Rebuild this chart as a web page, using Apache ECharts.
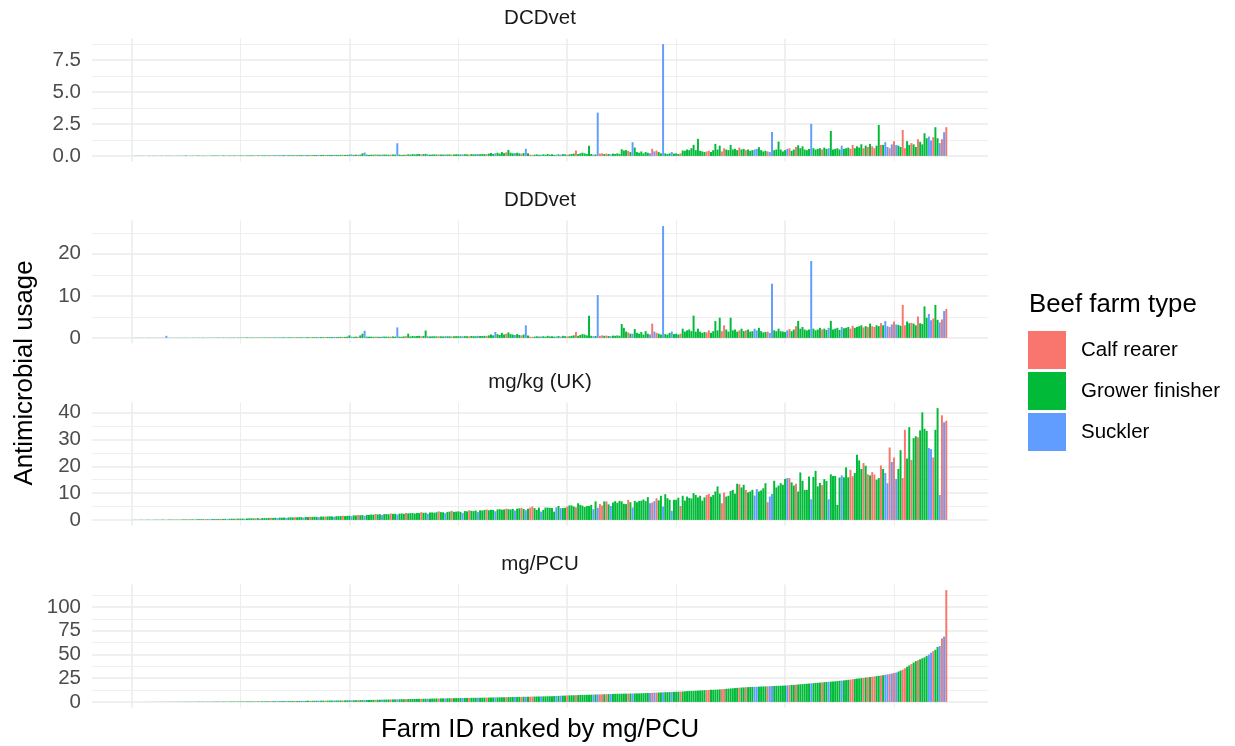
<!DOCTYPE html>
<html><head><meta charset="utf-8">
<script src="https://cdn.jsdelivr.net/npm/echarts@6/dist/echarts.min.js"></script>
<style>html,body{margin:0;padding:0;background:#fff}#c{width:1235px;height:746px}</style>
</head><body><div id="c"></div>
<script>
// ---- data (farms ranked by mg/PCU, rank 1..N) ----
const panelNames = ['DCDvet', 'DDDvet', 'mg/kg (UK)', 'mg/PCU'];
const typeNames = { C: 'Calf rearer', G: 'Grower finisher', S: 'Suckler' };
const typeOrder = ['C', 'G', 'S'];
const farmTypeCodes =
  'GGSGGCGGSG GGCGGSGGGC GSGGGCGGSG GGGCGSGGGG CGGSGGGCGG GSGGGGCGSG GGGCGGSGGG SGGGCGGGSG GCGGGSGGCG GGSGGGCGGG ' +
  'SGGCGGSGGG GCGGSGGGCG GSGGGCGGGG GGCGGSGGGG CGGSGGCGGG GSGGCGGGSG GGCGGGSGGG GCGGGSGGCG SGCCGGGSGG GGGGSGSGGC ' +
  'GGGCGGGGGG GSGSCCGCGS GGGGGGGCGS GGGGGGGSCS CGGSGGGSGG GCGGGGGGGG GGGCCGGGGG CCGGGGGGCG GCGGGSSGGG GCSSGGGGGG ' +
  'SCGGCGGGGG GSGGGGCGGS GGGGGSGGGC CGGGGCGCGC CGGCGSSCSC SGGCCGGCGG CGGGGSSCGG SCSC';

const dcdvet = [
 0.01,0.01,0.02,0.01,0.02,0.01,0.01,0.02,0.01,0.02,
 0.02,0.01,0.02,0.02,0.01,0.03,0.02,0.02,0.01,0.02,
 0.02,0.03,0.02,0.02,0.03,0.02,0.02,0.03,0.02,0.03,
 0.03,0.02,0.03,0.03,0.02,0.03,0.03,0.04,0.03,0.03,
 0.03,0.04,0.03,0.03,0.04,0.03,0.04,0.04,0.03,0.04,
 0.04,0.03,0.04,0.04,0.05,0.04,0.04,0.05,0.04,0.05,
 0.05,0.04,0.05,0.05,0.04,0.05,0.06,0.05,0.05,0.06,
 0.05,0.06,0.05,0.06,0.06,0.05,0.06,0.07,0.06,0.06,
 0.06,0.07,0.06,0.07,0.07,0.06,0.07,0.08,0.07,0.07,
 0.08,0.07,0.08,0.08,0.07,0.08,0.09,0.08,0.08,0.1,
 0.12,0.08,0.1,0.09,0.1,0.2,0.26,0.1,0.08,0.1,
 0.09,0.12,0.1,0.09,0.1,0.11,0.1,0.09,0.1,0.11,
 0.1,0.99,0.1,0.08,0.09,0.1,0.12,0.1,0.14,0.12,
 0.13,0.15,0.12,0.14,0.16,0.12,0.1,0.11,0.12,0.1,
 0.12,0.11,0.1,0.12,0.11,0.12,0.1,0.11,0.13,0.12,
 0.11,0.12,0.13,0.12,0.11,0.14,0.13,0.12,0.15,0.13,
 0.14,0.15,0.13,0.18,0.22,0.16,0.2,0.25,0.18,0.3,
 0.22,0.28,0.47,0.25,0.2,0.22,0.25,0.2,0.18,0.22,
 0.55,0.2,0.1,0.08,0.1,0.12,0.09,0.1,0.12,0.1,
 0.15,0.1,0.12,0.08,0.1,0.12,0.1,0.14,0.12,0.1,
 0.12,0.15,0.18,0.42,0.15,0.2,0.25,0.2,0.15,0.8,
 0.15,0.1,0.12,3.38,0.18,0.2,0.15,0.18,0.15,0.12,
 0.18,0.15,0.2,0.15,0.52,0.42,0.45,0.4,0.3,1.07,
 0.65,0.3,0.25,0.35,0.2,0.3,0.25,0.2,0.55,0.35,
 0.42,0.3,0.2,8.73,0.2,0.15,0.2,0.3,0.18,0.2,
 0.15,0.2,0.42,0.4,0.5,0.45,0.6,0.86,0.45,1.33,
 0.4,0.35,0.3,0.35,0.4,0.3,0.45,0.94,0.5,0.8,
 0.35,0.6,0.5,0.45,0.86,0.5,0.55,0.45,0.65,0.5,
 0.55,0.45,0.5,0.4,0.45,0.5,0.55,0.68,0.45,0.35,
 0.4,0.35,0.3,1.87,0.45,0.5,1.12,0.5,0.35,0.45,
 0.55,0.6,0.4,0.5,0.7,0.83,0.6,0.75,0.5,0.45,
 0.55,2.5,0.6,0.5,0.55,0.6,0.5,0.65,0.55,0.6,
 1.95,0.5,0.55,0.6,0.5,0.8,0.55,0.6,0.65,0.55,
 0.86,0.6,0.75,0.65,0.91,0.6,0.8,0.7,0.94,0.75,
 0.6,0.8,2.42,0.86,0.86,1.07,0.7,0.6,0.9,1.15,
 0.85,0.8,0.7,2.03,0.6,1.15,0.86,1.0,0.9,0.7,
 1.3,1.1,0.9,1.77,1.38,1.51,1.2,1.46,2.24,1.38,
 1.0,1.3,1.85,2.24
];

const dddvet = [
 0.03,0.02,0.05,0.03,0.04,0.02,0.03,0.05,0.04,0.03,
 0.04,0.03,0.05,0.04,0.03,0.5,0.04,0.05,0.03,0.06,
 0.05,0.08,0.04,0.05,0.06,0.05,0.04,0.06,0.07,0.05,
 0.06,0.05,0.07,0.06,0.05,0.08,0.06,0.07,0.06,0.08,
 0.07,0.08,0.06,0.09,0.07,0.08,0.09,0.07,0.08,0.1,
 0.08,0.1,0.09,0.08,0.1,0.09,0.11,0.1,0.12,0.1,
 0.11,0.1,0.12,0.13,0.11,0.12,0.14,0.12,0.13,0.15,
 0.13,0.14,0.15,0.13,0.16,0.14,0.15,0.17,0.15,0.16,
 0.17,0.16,0.18,0.17,0.19,0.18,0.2,0.19,0.2,0.22,
 0.2,0.22,0.24,0.21,0.23,0.25,0.22,0.24,0.3,0.6,
 0.3,0.25,0.3,0.28,0.6,1.0,1.7,0.3,0.25,0.3,
 0.25,0.3,0.28,0.25,0.3,0.32,0.3,0.28,0.3,0.35,
 0.3,2.5,0.3,0.28,0.35,0.4,1.0,0.35,0.45,0.4,
 0.45,0.5,0.4,0.45,1.75,0.4,0.35,0.38,0.4,0.35,
 0.4,0.38,0.35,0.42,0.38,0.4,0.35,0.38,0.42,0.4,
 0.38,0.4,0.42,0.4,0.38,0.45,0.42,0.4,0.5,0.45,
 0.45,0.5,0.48,0.6,0.8,0.6,1.4,0.9,0.7,1.2,
 0.8,1.0,1.3,0.9,0.8,0.7,0.9,0.7,0.6,0.8,
 3.0,0.6,0.3,0.25,0.3,0.4,0.3,0.35,0.4,0.3,
 0.5,0.35,0.4,0.3,0.35,0.45,0.3,0.5,0.4,0.35,
 0.4,0.5,0.6,1.4,0.5,0.7,0.9,0.8,0.6,5.3,
 0.5,0.4,0.45,10.2,0.5,0.6,0.5,0.55,0.45,0.4,
 0.55,0.5,0.6,0.5,3.3,2.4,1.5,1.3,1.0,1.0,
 2.1,1.2,1.0,1.4,0.8,1.6,1.0,0.8,3.4,1.5,
 1.2,1.0,0.8,26.6,0.9,0.8,1.2,1.5,0.9,1.0,
 0.8,1.0,2.2,1.5,1.8,2.0,1.6,5.3,1.5,2.2,
 1.5,1.2,1.4,1.3,1.8,1.2,1.6,4.0,1.8,4.8,
 1.6,3.0,2.0,1.5,4.8,1.8,2.0,1.5,1.8,2.2,
 1.6,1.8,2.0,1.5,1.6,2.2,1.8,2.4,1.6,1.3,
 1.4,1.5,1.2,12.9,1.8,1.6,2.2,1.6,1.5,1.4,
 1.8,2.1,1.6,2.0,2.8,4.05,2.2,2.6,2.0,1.8,
 2.0,18.3,2.2,1.8,2.0,2.4,2.0,2.2,1.9,2.4,
 4.05,2.0,2.2,2.4,1.9,2.6,2.3,2.4,2.6,2.2,
 2.9,2.4,2.6,2.8,3.0,2.5,2.8,2.6,3.4,2.8,
 2.6,3.0,2.8,3.5,3.0,4.0,2.8,2.6,3.2,3.9,
 3.2,3.1,2.9,7.85,3.0,3.9,3.5,3.6,3.4,3.0,
 5.1,3.5,3.3,7.5,4.8,5.7,4.2,4.6,7.85,4.3,
 3.7,4.4,6.4,6.9
];

const mgkg = [
 0.05,0.06,0.04,0.08,0.07,0.05,0.09,0.1,0.06,0.08,
 0.1,0.12,0.09,0.13,0.11,0.08,0.14,0.15,0.12,0.16,
 0.15,0.12,0.18,0.2,0.17,0.22,0.2,0.24,0.18,0.25,
 0.26,0.28,0.25,0.3,0.27,0.22,0.32,0.34,0.3,0.35,
 0.38,0.36,0.4,0.3,0.42,0.45,0.4,0.48,0.5,0.45,
 0.52,0.4,0.55,0.58,0.6,0.56,0.62,0.65,0.5,0.68,
 0.7,0.66,0.74,0.78,0.72,0.8,0.7,0.85,0.82,0.88,
 0.75,0.9,0.95,0.92,1.0,0.96,1.02,1.05,0.85,1.1,
 1.08,1.2,1.12,1.18,1.15,1.0,1.25,1.22,1.3,1.28,
 1.35,1.3,1.15,1.4,1.38,1.45,1.55,1.42,1.5,1.6,
 1.4,1.7,1.65,1.85,1.75,1.8,1.5,1.9,1.85,2.0,
 1.95,2.2,2.05,2.1,1.8,2.15,2.2,2.1,2.4,2.25,
 2.3,2.0,2.35,2.4,2.3,2.6,2.45,2.5,2.55,2.4,
 2.6,2.55,2.9,2.65,2.7,2.3,2.75,2.8,2.7,2.85,
 3.2,2.9,2.85,2.5,3.0,3.1,3.4,3.0,3.1,3.2,
 3.0,2.6,3.3,3.2,3.6,3.4,3.3,3.5,2.9,3.6,
 3.5,3.7,3.9,3.6,3.8,3.7,3.2,3.9,4.0,3.8,
 3.9,4.2,4.0,3.9,4.1,3.5,4.2,4.3,4.5,4.1,
 3.6,4.2,4.6,5.0,4.4,3.7,4.6,3.1,3.7,4.6,
 4.6,4.5,4.4,3.1,4.7,5.2,4.4,4.4,4.5,5.0,
 5.4,5.4,5.0,4.7,6.2,5.6,5.3,4.8,5.2,5.2,
 5.6,4.0,6.9,4.5,5.9,5.4,6.9,6.9,5.8,5.2,
 6.5,7.0,6.4,7.1,6.9,6.0,5.9,7.5,6.6,4.6,
 7.1,6.6,7.1,7.2,7.6,7.0,8.5,6.2,6.5,7.0,
 8.1,7.3,9.0,5.0,9.6,8.1,7.5,3.4,7.5,7.5,
 8.3,5.2,9.0,7.2,8.7,8.2,8.0,10.0,9.3,8.4,
 9.0,7.2,8.4,9.3,9.7,8.6,9.3,10.6,12.5,9.8,
 6.2,10.2,8.7,9.0,10.8,11.2,9.8,13.5,13.3,12.1,
 13.1,11.2,10.3,10.6,11.2,9.1,11.5,10.6,11.0,11.8,
 13.7,6.6,8.7,9.7,14.6,12.1,12.8,13.7,13.1,15.3,
 15.6,15.6,14.0,12.8,13.5,10.6,17.7,14.6,11.2,11.2,
 16.2,7.7,16.0,18.3,12.5,13.8,13.0,15.2,14.5,7.7,
 17.0,16.4,16.4,5.6,15.8,16.6,15.9,19.6,15.9,18.7,
 16.3,17.5,24.3,22.2,19.0,21.2,20.2,17.0,16.6,17.8,
 16.9,15.0,15.6,20.3,19.0,17.5,13.7,27.0,21.6,23.3,
 15.3,19.0,26.0,15.6,33.6,22.9,34.6,22.4,30.5,31.2,
 30.8,33.4,40.1,34.0,33.2,26.8,26.4,23.3,33.6,41.7,
 9.3,39.0,36.4,37.0
];

const mgpcu = [
 0.01,0.02,0.03,0.03,0.04,0.05,0.05,0.06,0.07,0.08,
 0.09,0.1,0.11,0.12,0.13,0.14,0.15,0.16,0.17,0.18,
 0.19,0.2,0.21,0.22,0.23,0.24,0.25,0.26,0.27,0.28,
 0.3,0.31,0.32,0.33,0.34,0.35,0.36,0.37,0.38,0.39,
 0.4,0.41,0.42,0.43,0.44,0.46,0.47,0.48,0.5,0.51,
 0.52,0.54,0.55,0.56,0.58,0.6,0.61,0.63,0.65,0.66,
 0.68,0.7,0.72,0.74,0.76,0.78,0.8,0.82,0.84,0.86,
 0.88,0.9,0.92,0.94,0.96,0.98,1.0,1.02,1.05,1.08,
 1.1,1.13,1.16,1.19,1.22,1.25,1.28,1.31,1.34,1.37,
 1.4,1.43,1.46,1.49,1.52,1.55,1.58,1.61,1.64,1.68,
 1.72,1.76,1.8,1.84,1.88,1.92,1.96,2.0,2.05,2.1,
 2.15,2.2,2.25,2.3,2.35,2.4,2.45,2.5,2.55,2.6,
 2.65,2.7,2.75,2.8,2.85,2.9,2.95,3.0,3.05,3.1,
 3.15,3.2,3.25,3.3,3.35,3.4,3.45,3.5,3.55,3.6,
 3.65,3.7,3.74,3.78,3.82,3.86,3.9,3.94,3.98,4.02,
 4.06,4.1,4.14,4.18,4.22,4.26,4.3,4.34,4.38,4.42,
 4.46,4.5,4.55,4.6,4.65,4.7,4.75,4.8,4.85,4.9,
 4.95,5.0,5.05,5.1,5.15,5.2,5.25,5.3,5.35,5.4,
 5.45,5.5,5.55,5.6,5.65,5.7,5.75,5.8,5.85,5.9,
 5.95,6.0,6.1,6.2,6.3,6.4,6.5,6.6,6.7,6.8,
 6.9,7.0,7.05,7.1,7.2,7.3,7.35,7.4,7.5,7.6,
 7.65,7.7,7.8,7.9,7.95,8.0,8.1,8.2,8.25,8.3,
 8.4,8.5,8.55,8.6,8.65,8.7,8.75,8.8,8.85,8.9,
 8.95,9.0,9.05,9.1,9.2,9.3,9.4,9.5,9.6,9.7,
 9.8,9.9,10.0,10.1,10.2,10.3,10.4,10.5,10.6,10.7,
 10.8,10.9,11.0,11.2,11.4,11.5,11.6,11.7,11.8,12.0,
 12.1,12.2,12.4,12.5,12.6,12.7,12.8,12.9,13.0,13.2,
 13.4,13.6,13.8,14.0,14.2,14.4,14.6,14.8,15.0,15.2,
 15.3,15.5,15.6,15.7,15.8,15.9,16.0,16.1,16.2,16.3,
 16.4,16.5,16.6,16.7,16.8,16.9,17.0,17.1,17.2,17.3,
 17.5,17.7,17.9,18.0,18.2,18.4,18.6,18.8,19.0,19.2,
 19.4,19.6,19.8,20.0,20.2,20.4,20.6,20.8,21.0,21.2,
 21.4,21.6,21.8,22.0,22.3,22.5,22.7,23.0,23.3,23.6,
 23.9,24.2,24.5,24.8,25.1,25.4,25.7,26.0,26.3,26.6,
 26.9,27.2,27.5,27.8,28.2,28.6,29.0,29.5,30.0,30.5,
 31.0,32.0,33.0,34.0,35.5,37.0,38.5,40.0,41.5,43.0,
 44.0,45.0,46.0,47.0,48.5,50.0,52.0,53.5,55.0,58.0,
 59.0,67.0,69.0,118.0
];

const yTickValues = [[0, 2.5, 5, 7.5], [0, 10, 20], [0, 10, 20, 30, 40], [0, 25, 50, 75, 100]];
const yTickDecimals = [1, 0, 0, 0];
const xBreakStep = 50;

// ---- build chart ----
const panelValues = [dcdvet, dddvet, mgkg, mgpcu];
const types = farmTypeCodes.replace(/\s/g, '').split('');
const N = mgpcu.length;
const colors = { C: '#F8766D', G: '#00BA38', S: '#619CFF' };
const FONT = '"Liberation Sans", Arial, sans-serif';
const gridTops = [38.5, 220.5, 402.5, 584.5];
const gridH = 123, gridL = 92, gridW = 896;
const xMin = 0.55 - 0.05 * (N - 0.1), xMax = N + 0.45 + 0.05 * (N - 0.1);

const grids = [], xAxes = [], yAxes = [], series = [], graphics = [];
panelNames.forEach((name, i) => {
  grids.push({ left: gridL, width: gridW, top: gridTops[i], height: gridH });
  xAxes.push({ type: 'value', gridIndex: i, min: xMin, max: xMax, show: false });
  const vmax = Math.max(...panelValues[i]);
  const yMin = -0.05 * vmax, yMax = 1.05 * vmax;
  const dec = yTickDecimals[i];
  yAxes.push({
    type: 'value', gridIndex: i, min: yMin, max: yMax,
    axisLine: { show: false }, axisTick: { show: false }, splitLine: { show: false },
    axisLabel: { customValues: yTickValues[i], formatter: v => Number(v).toFixed(dec),
      color: '#4D4D4D', fontSize: 20.5, fontFamily: FONT, margin: 11 }
  });
  // gridlines
  const ticks = yTickValues[i];
  const step = ticks[1] - ticks[0];
  const lines = [];
  ticks.forEach(t => lines.push({ yAxis: t, lineStyle: { width: 1.5 } }));
  for (let m = ticks[0] - step / 2; m <= yMax; m += step) {
    if (m >= yMin) lines.push({ yAxis: m, lineStyle: { width: 0.8 } });
  }
  for (let b = 0; b <= N; b += xBreakStep) {
    lines.push({ xAxis: b, lineStyle: { width: (b / xBreakStep) % 2 === 0 ? 1.5 : 0.9 } });
  }
  series.push({
    type: 'scatter', xAxisIndex: i, yAxisIndex: i, data: [[xMin, 0]], symbolSize: 0,
    silent: true, z: 0, animation: false,
    markLine: { silent: true, symbol: ['none', 'none'], label: { show: false }, animation: false, z: 0,
      lineStyle: { color: '#EBEBEB', type: 'solid' }, emphasis: { disabled: true }, data: lines }
  });
  typeOrder.forEach(t => {
    const data = [];
    panelValues[i].forEach((v, k) => { if (types[k] === t) data.push([k + 1, v]); });
    series.push({
      type: 'bar', name: typeNames[t], xAxisIndex: i, yAxisIndex: i, data,
      itemStyle: { color: colors[t] }, barWidth: '90%', barGap: '-100%',
      emphasis: { disabled: true }, animation: false, z: 2
    });
  });
  graphics.push({ type: 'text', x: gridL + gridW / 2, y: gridTops[i] - 20.5, silent: true,
    style: { text: name, fill: '#1A1A1A', font: '20.5px ' + FONT, textAlign: 'center', textVerticalAlign: 'middle' } });
});

graphics.push({ type: 'text', x: 25, y: 373, rotation: Math.PI / 2, silent: true,
  style: { text: 'Antimicrobial usage', fill: '#000', font: '25.8px ' + FONT, textAlign: 'center', textVerticalAlign: 'middle' } });
graphics.push({ type: 'text', x: gridL + gridW / 2, y: 730, silent: true,
  style: { text: 'Farm ID ranked by mg/PCU', fill: '#000', font: '25.8px ' + FONT, textAlign: 'center', textVerticalAlign: 'middle' } });
graphics.push({ type: 'text', x: 1029, y: 305, silent: true,
  style: { text: 'Beef farm type', fill: '#000', font: '25.8px ' + FONT, textAlign: 'left', textVerticalAlign: 'middle' } });

const chart = echarts.init(document.getElementById('c'), null, { renderer: 'canvas' });
chart.setOption({
  backgroundColor: '#fff',
  animation: false,
  grid: grids, xAxis: xAxes, yAxis: yAxes, series,
  legend: {
    data: typeOrder.map(t => typeNames[t]), orient: 'vertical', left: 1028, top: 331, padding: 0,
    itemWidth: 38, itemHeight: 38, itemGap: 3, icon: 'rect', selectedMode: false,
    textStyle: { fontSize: 20.5, fontFamily: FONT, color: '#000', padding: [0, 0, 0, 10] }
  },
  graphic: graphics
});
</script></body></html>
